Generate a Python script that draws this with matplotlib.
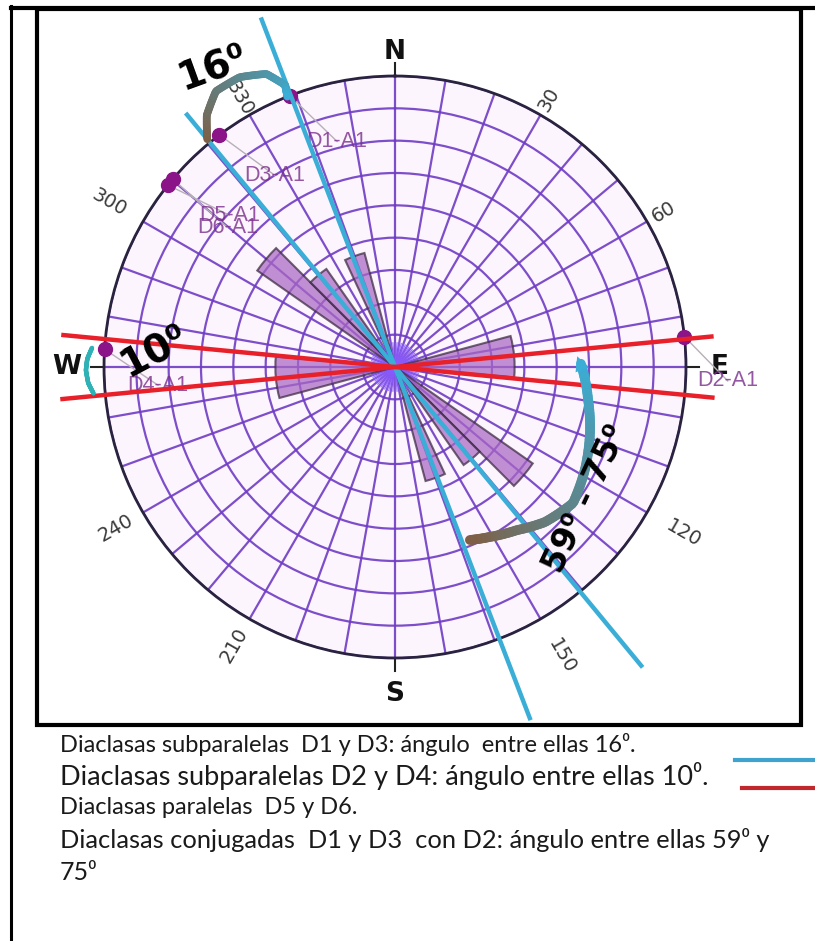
import numpy as np
import matplotlib.pyplot as plt
from matplotlib.collections import LineCollection
from matplotlib.colors import to_rgb
from matplotlib.lines import Line2D
from matplotlib.patches import Rectangle

# rose petals (azimuth from N, clockwise), mirrored at +180
petal_start = [75, 125, 135, 155]
petal_width = [20, 10, 10, 10]
petal_len = [3.7, 5.2, 3.7, 3.65]

# joints plotted on the primitive circle
joint_names = ['D1-A1', 'D2-A1', 'D3-A1', 'D4-A1', 'D5-A1', 'D6-A1']
joint_az = [338.8, 84.0, 322.9, 273.5, 308.7, 310.2]

# traced lines
cyan_az = [339.0, 320.5]
red_az = [84.5, 95.5]

tick_deg = [30, 60, 120, 150, 210, 240, 300, 330]
cardinals = ['N', 'E', 'S', 'W']
cardinal_deg = [0, 90, 180, 270]

caption = [
    'Diaclasas subparalelas  D1 y D3: ángulo  entre ellas 16\u2070.',
    'Diaclasas subparalelas D2 y D4: ángulo entre ellas 10\u2070.',
    'Diaclasas paralelas  D5 y D6.',
    'Diaclasas conjugadas  D1 y D3  con D2: ángulo entre ellas 59\u2070 y',
    '75\u2070',
]

RMAX = 9
CYAN = '#3aaed6'
RED = '#e8202a'
BROWN = '#7f5f45'

W, H = 815, 941
fig = plt.figure(figsize=(W / 100, H / 100), dpi=100)

# frames
fig.add_artist(Line2D([11 / W, 11 / W], [0, 1 - 6 / H], color='black', lw=2.2))
fig.add_artist(Line2D([11 / W, 1], [1 - 8 / H, 1 - 8 / H], color='black', lw=3))
fig.add_artist(Rectangle((37 / W, 1 - 725 / H), (801 - 37) / W, (725 - 9) / H,
                         transform=fig.transFigure, fill=False, ec='black', lw=3))

cx, cy, rad = 395, 367, 291
ax = fig.add_axes([(cx - rad) / W, 1 - (cy + rad) / H, 2 * rad / W, 2 * rad / H],
                  projection='polar')
ax.set_theta_zero_location('N')
ax.set_theta_direction(-1)
ax.set_ylim(0, RMAX)
ax.set_facecolor('#fdf5fd')
ax.set_thetagrids(range(0, 360, 10), labels=[])
ax.set_rgrids(range(1, RMAX + 1), labels=[])
ax.grid(True, color='#6f3cc4', lw=1.6, alpha=0.9)
ax.spines['polar'].set_color('#2a2340')
ax.spines['polar'].set_linewidth(2)

# dense spokes near the centre
for d in range(0, 360, 5):
    ax.plot([np.radians(d)] * 2, [0, 0.75], color='#8a5cff', lw=0.9, alpha=0.8, zorder=2)

# petals
for s, w, L in zip(petal_start, petal_width, petal_len):
    for off in (0, 180):
        ax.bar(np.radians(s + off + w / 2), L, width=np.radians(w), bottom=0,
               color='#a968c4', alpha=0.72, ec='#3a2840', lw=1.5, zorder=3)

# joint dots and labels
label_pos = {'D1-A1': (345.6, 7.2), 'D2-A1': (92.4, 10.3), 'D3-A1': (327.9, 7.0),
             'D4-A1': (265.6, 7.35), 'D5-A1': (312.5, 6.95), 'D6-A1': (309.8, 6.75)}
for name, a in zip(joint_names, joint_az):
    la, lr = label_pos[name]
    ax.plot(np.radians([a, la]), [RMAX, lr], color='#b8b0b8', lw=1, zorder=4, clip_on=False)
    ax.scatter(np.radians(a), RMAX, s=100, color='#8a1488', zorder=5, clip_on=False)
    ax.text(np.radians(la), lr, name, color='#7a2d8c', fontsize=15.5, ha='center',
            va='center', family='Liberation Sans', alpha=0.8, zorder=5)

# traced lines through the centre
cyan_len = [(11.58, 11.7), (10.18, 12.04)]
red_len = [(9.9, 10.4), (9.93, 10.37)]
for azs, lens, col in ((cyan_az, cyan_len, CYAN), (red_az, red_len, RED)):
    for a, (la, lb) in zip(azs, lens):
        t = np.radians(a)
        ax.plot([t, t, t + np.pi, t + np.pi], [la, 0, 0, lb], color=col, lw=3.2,
                zorder=7, clip_on=False, solid_capstyle='butt')

# degree labels around the circle
tick_r = {30: 9.55, 60: 9.6, 120: 10.3, 150: 10.35, 210: 9.95, 240: 9.95,
          300: 10.2, 330: 9.6}
for d in tick_deg:
    rot = 90 - d
    while rot <= -90:
        rot += 180
    while rot > 90:
        rot -= 180
    ax.text(np.radians(d), tick_r[d], str(d), rotation=rot, rotation_mode='anchor',
            ha='center', va='center', fontsize=14, color='#3a3a3a', clip_on=False)

card_r = [9.75, 10.05, 10.1, 10.15]
for lab, d, rr in zip(cardinals, cardinal_deg, card_r):
    ax.plot([np.radians(d)] * 2, [RMAX, RMAX + 0.4], color='#222222', lw=1.5, clip_on=False)
    ax.text(np.radians(d), rr, lab, ha='center', va='center', fontsize=19,
            fontweight='bold', color='#111111', clip_on=False)


def grad_curve(ctrl_th, ctrl_r, c0, c1, lw, n=90):
    k = np.arange(len(ctrl_th))
    t = np.linspace(0, len(ctrl_th) - 1, n)
    th = np.radians(np.interp(t, k, ctrl_th))
    rr = np.interp(t, k, ctrl_r)
    pts = np.column_stack([th, rr])
    segs = np.stack([pts[:-1], pts[1:]], axis=1)
    a, b = np.array(to_rgb(c0)), np.array(to_rgb(c1))
    cols = [a + (b - a) * f for f in np.linspace(0, 1, len(segs))]
    lc = LineCollection(segs, colors=cols, linewidths=lw, capstyle='round', zorder=8)
    lc.set_clip_on(False)
    ax.add_collection(lc, autolim=False)


# 16 degree hook between D3 and D1
grad_curve([320.5, 323.2, 327.0, 331.8, 336.3, 338.7, 338.3],
           [9.13, 9.72, 10.17, 10.17, 9.9, 9.36, 9.0], BROWN, CYAN, 5.5)
# 10 degree bracket at W
grad_curve([273.6, 271.5, 269.4, 267.0, 265.0], [9.39, 9.52, 9.56, 9.5, 9.36],
           '#2fb2b5', '#2fb2b5', 3.2)
# 59-75 degree arrow
grad_curve([89.0, 99.7, 107.9, 118.5, 127.4, 136.0, 143.2, 150.8, 156.6],
           [5.75, 6.06, 6.34, 6.68, 6.93, 6.67, 6.3, 6.02, 5.83], CYAN, BROWN, 7)
ax.annotate('', xy=(np.radians(85.8), 5.62), xytext=(np.radians(90.5), 5.78),
            arrowprops=dict(arrowstyle='-|>', color=CYAN, mutation_scale=26, lw=0),
            annotation_clip=False, zorder=9)

ax.text(np.radians(328.6), 10.83, '16\u2070', rotation=20, ha='center', va='center',
        fontsize=28, fontweight='bold', color='black', clip_on=False, zorder=9)
ax.text(np.radians(273.8), 7.46, '10\u2070', rotation=28, ha='center', va='center',
        fontsize=28, fontweight='bold', color='black', zorder=9)
ax.text(np.radians(124.6), 7.17, '59\u2070 - 75\u2070', rotation=65, ha='center', va='center',
        fontsize=24, fontweight='bold', color='black', zorder=9)

# caption below the box
cap_y = [745, 776, 808, 840, 872]
cap_size = [17, 19.5, 17, 18.3, 18]
for txt, y, fs in zip(caption, cap_y, cap_size):
    fig.text(60 / W, 1 - y / H, txt, fontsize=fs, va='center', ha='left',
             family=['Lato', 'DejaVu Sans'], color='#1a1a1a')

fig.add_artist(Line2D([735 / W, 1], [1 - 760 / H] * 2, color='#3ea3cf', lw=3))
fig.add_artist(Line2D([742 / W, 1], [1 - 788 / H] * 2, color='#c0282d', lw=3))

fig.savefig('out.png', dpi=100)
